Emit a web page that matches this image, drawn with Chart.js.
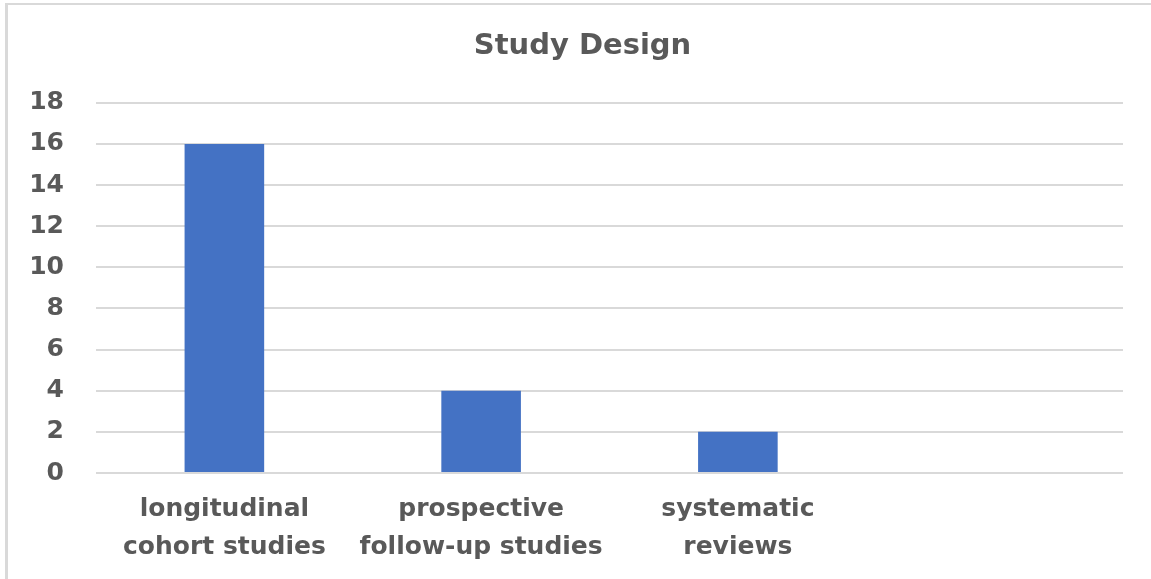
<!DOCTYPE html>
<html>
<head>
<meta charset="utf-8">
<script src="https://cdn.jsdelivr.net/npm/chart.js@4/dist/chart.umd.min.js"></script>
<style>
  html, body { margin: 0; padding: 0; background: #ffffff; }
  #wrap { position: relative; width: 1151px; height: 579px; overflow: hidden; }
  #frame { position: absolute; left: 5px; top: 3px; right: -10px; bottom: -10px;
           border-top: 2px solid #d9d9d9; border-left: 3px solid #d9d9d9; pointer-events: none; }
  canvas { position: absolute; left: 0; top: 0; }
</style>
</head>
<body>
<div id="wrap">
  <canvas id="chart" width="1151" height="579"></canvas>
  <div id="frame"></div>
</div>
<script>
// Study design counts
const categories = [
  ['longitudinal', 'cohort studies'],
  ['prospective', 'follow-up studies'],
  ['systematic', 'reviews'],
  ''
];
const studyCounts = [16, 4, 2, null];
const yTicks = [0, 2, 4, 6, 8, 10, 12, 14, 16, 18];

const textGray = '#595959';
const gridGray = '#d9d9d9';
const barBlue = '#4472C4';
const fontFamily = '"DejaVu Sans", sans-serif';

new Chart(document.getElementById('chart'), {
  type: 'bar',
  data: {
    labels: categories,
    datasets: [{
      label: 'Study Design',
      data: studyCounts,
      backgroundColor: barBlue,
      borderWidth: 0,
      barPercentage: 0.31,
      categoryPercentage: 1.0
    }]
  },
  options: {
    responsive: false,
    animation: false,
    events: [],
    layout: { padding: { left: 14, right: 0, top: 0, bottom: 0 } },
    plugins: {
      legend: { display: false },
      tooltip: { enabled: false },
      title: {
        display: true,
        text: 'Study Design',
        color: textGray,
        font: { family: fontFamily, size: 29, weight: 'bold', lineHeight: 1.2 },
        padding: { top: 29, bottom: 39 }
      }
    },
    scales: {
      x: {
        grid: { display: false, drawTicks: false },
        border: { display: false },
        ticks: {
          color: textGray,
          padding: 18,
          maxRotation: 0,
          autoSkip: false,
          font: { family: fontFamily, size: 25, weight: 'bold', lineHeight: 1.5 }
        },
        afterFit: (scale) => { scale.height = 106; }
      },
      y: {
        min: 0,
        max: 18,
        afterBuildTicks: (scale) => { scale.ticks = yTicks.map(v => ({ value: v })); },
        grid: { color: gridGray, lineWidth: 2, drawTicks: false },
        border: { display: false },
        ticks: {
          color: textGray,
          padding: 32,
          font: { family: fontFamily, size: 25, weight: 'bold' }
        },
        afterFit: (scale) => { scale.width = 82; }
      },
      // empty right-hand margin beside the plot
      yRight: {
        position: 'right',
        min: 0,
        max: 18,
        grid: { display: false, drawTicks: false },
        border: { display: false },
        ticks: { display: false },
        afterFit: (scale) => { scale.width = 28; }
      }
    }
  }
});
</script>
</body>
</html>
